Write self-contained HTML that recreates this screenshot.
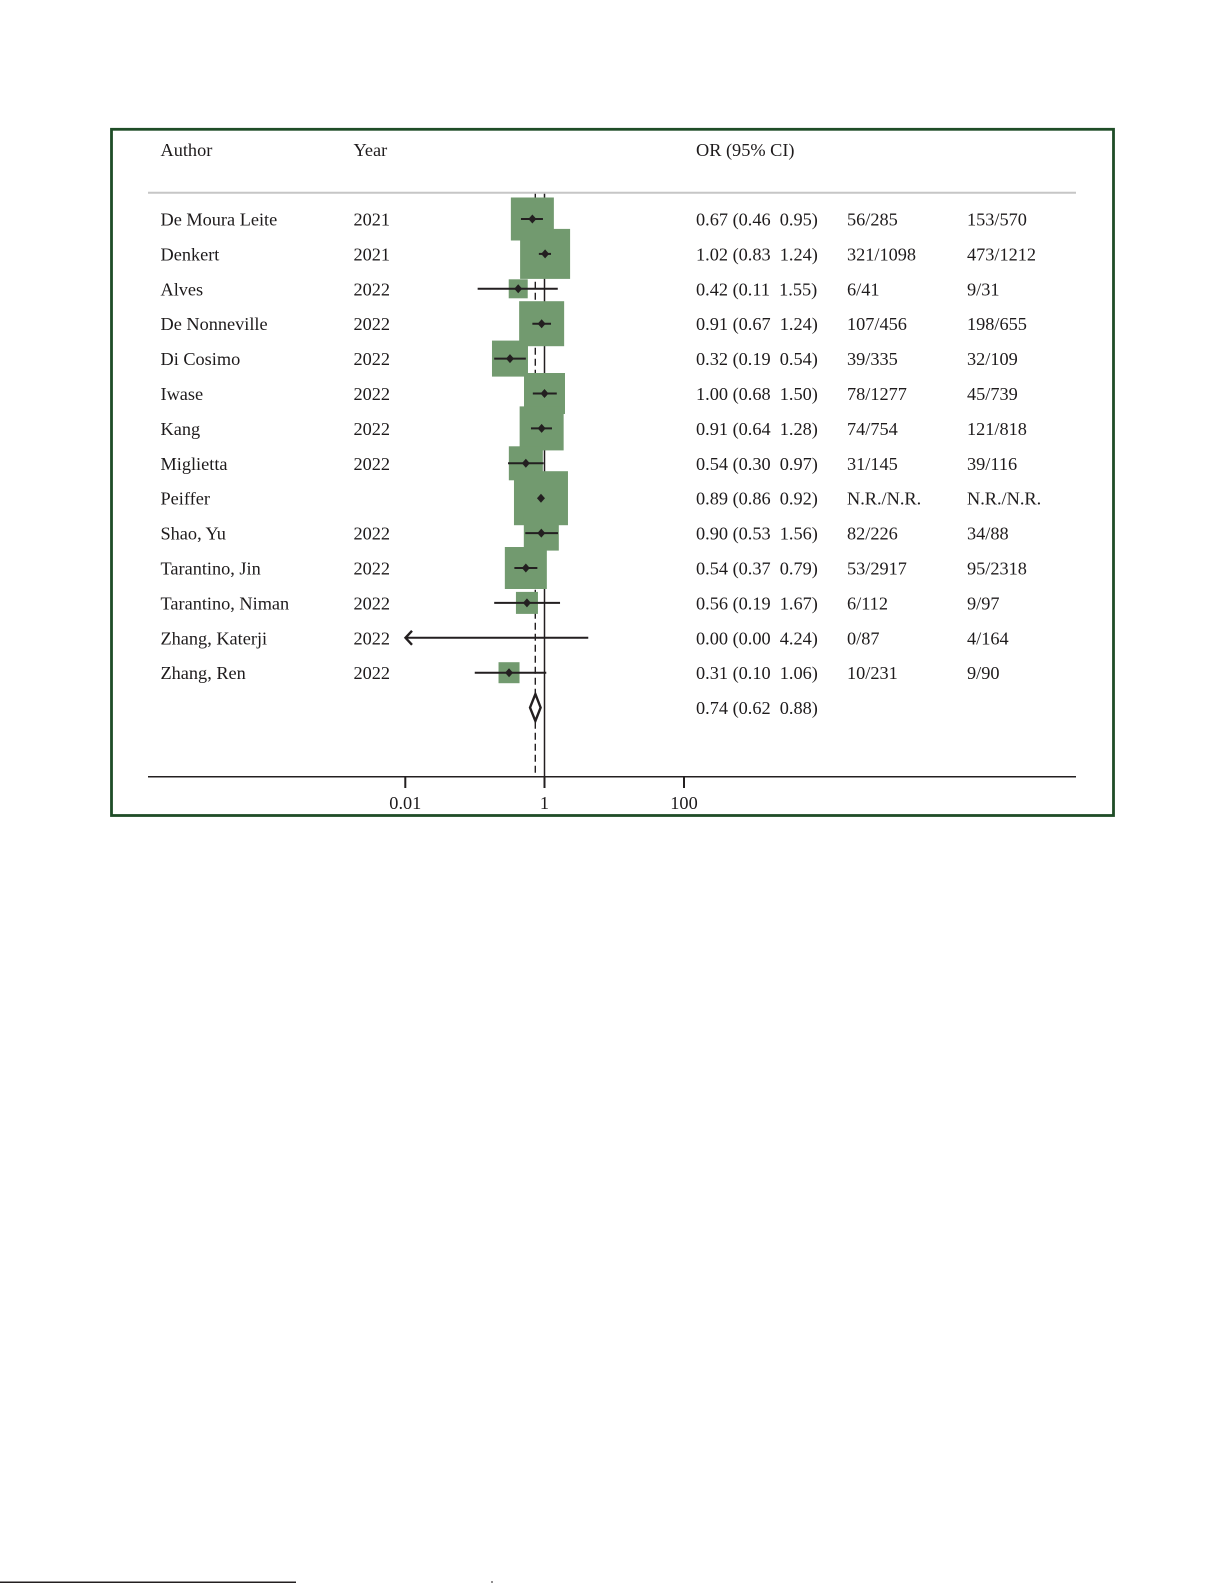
<!DOCTYPE html>
<html>
<head>
<meta charset="utf-8">
<style>
  html,body{margin:0;padding:0;background:#fff;}
  svg{display:block;}
  text{font-family:"Liberation Serif","Times New Roman",serif;font-size:18.3px;fill:#1e1b1c;}
</style>
</head>
<body>
<svg width="1226" height="1583" viewBox="0 0 1226 1583" xmlns="http://www.w3.org/2000/svg">
  <rect x="0" y="0" width="1226" height="1583" fill="#fff"/>
  <!-- frame -->
  <rect x="111.5" y="129.3" width="1002" height="686.2" fill="none" stroke="#1f4d27" stroke-width="2.8"/>

  <!-- header -->
  <text x="160.5" y="156">Author</text>
  <text x="353.5" y="156">Year</text>
  <text x="696" y="156">OR (95% CI)</text>
  <line x1="148" y1="192.7" x2="1076" y2="192.7" stroke="#c6c6c6" stroke-width="2"/>

  <!-- reference lines -->
  <line x1="544.5" y1="193.7" x2="544.5" y2="777" stroke="#231f20" stroke-width="1.5"/>
  <line x1="535.3" y1="193.7" x2="535.3" y2="777" stroke="#231f20" stroke-width="1.4" stroke-dasharray="7 4"/>

  <!-- boxes -->
  <g fill="#729a6f">
    <rect x="510.87" y="197.5" width="43" height="43"/>
    <rect x="520.10" y="228.9" width="50" height="50"/>
    <rect x="508.72" y="279.3" width="19" height="19"/>
    <rect x="519.14" y="301.2" width="45" height="45"/>
    <rect x="491.98" y="340.6" width="36" height="36"/>
    <rect x="524.00" y="373.0" width="41" height="41"/>
    <rect x="519.64" y="406.4" width="44" height="44"/>
    <rect x="508.84" y="446.3" width="34" height="34"/>
    <rect x="513.97" y="471.2" width="54" height="54"/>
    <rect x="523.81" y="515.6" width="35" height="35"/>
    <rect x="504.84" y="547.0" width="42" height="42"/>
    <rect x="515.94" y="591.9" width="22" height="22"/>
    <rect x="498.53" y="662.2" width="21" height="21"/>
  </g>

  <!-- CI lines -->
  <g stroke="#231f20" stroke-width="2">
    <line x1="520.98" y1="219" x2="542.95" y2="219"/>
    <line x1="538.86" y1="253.9" x2="551.02" y2="253.9"/>
    <line x1="477.64" y1="288.8" x2="557.77" y2="288.8"/>
    <line x1="532.37" y1="323.7" x2="551.02" y2="323.7"/>
    <line x1="494.20" y1="358.6" x2="525.84" y2="358.6"/>
    <line x1="532.82" y1="393.5" x2="556.78" y2="393.5"/>
    <line x1="530.98" y1="428.4" x2="551.98" y2="428.4"/>
    <line x1="508.03" y1="463.3" x2="543.58" y2="463.3"/>
    <line x1="539.93" y1="498.2" x2="541.97" y2="498.2"/>
    <line x1="525.27" y1="533.1" x2="557.97" y2="533.1"/>
    <line x1="514.38" y1="568.0" x2="537.36" y2="568.0"/>
    <line x1="494.20" y1="602.9" x2="560.03" y2="602.9"/>
    <line x1="406" y1="637.8" x2="588.26" y2="637.8"/>
    <line x1="474.75" y1="672.7" x2="546.27" y2="672.7"/>
  </g>
  <!-- arrow head -->
  <polyline points="412,630.8 405.5,637.8 412,644.8" fill="none" stroke="#231f20" stroke-width="2.4"/>

  <!-- point markers -->
  <g fill="#231f20">
    <polygon points="532.37,214.5 536.37,219 532.37,223.5 528.37,219"/>
    <polygon points="545.10,249.4 549.10,253.9 545.10,258.4 541.10,253.9"/>
    <polygon points="518.22,284.3 522.22,288.8 518.22,293.3 514.22,288.8"/>
    <polygon points="541.64,319.2 545.64,323.7 541.64,328.2 537.64,323.7"/>
    <polygon points="509.98,354.1 513.98,358.6 509.98,363.1 505.98,358.6"/>
    <polygon points="544.50,389.0 548.50,393.5 544.50,398.0 540.50,393.5"/>
    <polygon points="541.64,423.9 545.64,428.4 541.64,432.9 537.64,428.4"/>
    <polygon points="525.84,458.8 529.84,463.3 525.84,467.8 521.84,463.3"/>
    <polygon points="540.97,493.7 544.97,498.2 540.97,502.7 536.97,498.2"/>
    <polygon points="541.31,528.6 545.31,533.1 541.31,537.6 537.31,533.1"/>
    <polygon points="525.84,563.5 529.84,568.0 525.84,572.5 521.84,568.0"/>
    <polygon points="526.94,598.4 530.94,602.9 526.94,607.4 522.94,602.9"/>
    <polygon points="509.03,668.2 513.03,672.7 509.03,677.2 505.03,672.7"/>
  </g>

  <!-- overall diamond -->
  <polygon points="535.38,694 540.63,707.6 535.38,721 530.02,707.6" fill="#fff" stroke="#231f20" stroke-width="2.4"/>

  <!-- axis -->
  <line x1="148" y1="776.7" x2="1076" y2="776.7" stroke="#231f20" stroke-width="1.5"/>
  <g stroke="#231f20" stroke-width="2">
    <line x1="405.3" y1="777" x2="405.3" y2="788"/>
    <line x1="544.5" y1="777" x2="544.5" y2="788"/>
    <line x1="684" y1="777" x2="684" y2="788"/>
  </g>
  <text x="405.3" y="809" text-anchor="middle">0.01</text>
  <text x="544.5" y="809" text-anchor="middle">1</text>
  <text x="684" y="809" text-anchor="middle">100</text>

  <!-- rows text -->
  <g>
    <text x="160.5" y="225.5">De Moura Leite</text><text x="353.5" y="225.5">2021</text>
    <text x="696" y="225.5" xml:space="preserve">0.67 (0.46  0.95)</text><text x="847" y="225.5">56/285</text><text x="967" y="225.5">153/570</text>

    <text x="160.5" y="260.4">Denkert</text><text x="353.5" y="260.4">2021</text>
    <text x="696" y="260.4" xml:space="preserve">1.02 (0.83  1.24)</text><text x="847" y="260.4">321/1098</text><text x="967" y="260.4">473/1212</text>

    <text x="160.5" y="295.3">Alves</text><text x="353.5" y="295.3">2022</text>
    <text x="696" y="295.3" xml:space="preserve">0.42 (0.11  1.55)</text><text x="847" y="295.3">6/41</text><text x="967" y="295.3">9/31</text>

    <text x="160.5" y="330.2">De Nonneville</text><text x="353.5" y="330.2">2022</text>
    <text x="696" y="330.2" xml:space="preserve">0.91 (0.67  1.24)</text><text x="847" y="330.2">107/456</text><text x="967" y="330.2">198/655</text>

    <text x="160.5" y="365.1">Di Cosimo</text><text x="353.5" y="365.1">2022</text>
    <text x="696" y="365.1" xml:space="preserve">0.32 (0.19  0.54)</text><text x="847" y="365.1">39/335</text><text x="967" y="365.1">32/109</text>

    <text x="160.5" y="400.0">Iwase</text><text x="353.5" y="400.0">2022</text>
    <text x="696" y="400.0" xml:space="preserve">1.00 (0.68  1.50)</text><text x="847" y="400.0">78/1277</text><text x="967" y="400.0">45/739</text>

    <text x="160.5" y="434.9">Kang</text><text x="353.5" y="434.9">2022</text>
    <text x="696" y="434.9" xml:space="preserve">0.91 (0.64  1.28)</text><text x="847" y="434.9">74/754</text><text x="967" y="434.9">121/818</text>

    <text x="160.5" y="469.8">Miglietta</text><text x="353.5" y="469.8">2022</text>
    <text x="696" y="469.8" xml:space="preserve">0.54 (0.30  0.97)</text><text x="847" y="469.8">31/145</text><text x="967" y="469.8">39/116</text>

    <text x="160.5" y="504.7">Peiffer</text>
    <text x="696" y="504.7" xml:space="preserve">0.89 (0.86  0.92)</text><text x="847" y="504.7">N.R./N.R.</text><text x="967" y="504.7">N.R./N.R.</text>

    <text x="160.5" y="539.6">Shao, Yu</text><text x="353.5" y="539.6">2022</text>
    <text x="696" y="539.6" xml:space="preserve">0.90 (0.53  1.56)</text><text x="847" y="539.6">82/226</text><text x="967" y="539.6">34/88</text>

    <text x="160.5" y="574.5">Tarantino, Jin</text><text x="353.5" y="574.5">2022</text>
    <text x="696" y="574.5" xml:space="preserve">0.54 (0.37  0.79)</text><text x="847" y="574.5">53/2917</text><text x="967" y="574.5">95/2318</text>

    <text x="160.5" y="609.4">Tarantino, Niman</text><text x="353.5" y="609.4">2022</text>
    <text x="696" y="609.4" xml:space="preserve">0.56 (0.19  1.67)</text><text x="847" y="609.4">6/112</text><text x="967" y="609.4">9/97</text>

    <text x="160.5" y="644.3">Zhang, Katerji</text><text x="353.5" y="644.3">2022</text>
    <text x="696" y="644.3" xml:space="preserve">0.00 (0.00  4.24)</text><text x="847" y="644.3">0/87</text><text x="967" y="644.3">4/164</text>

    <text x="160.5" y="679.2">Zhang, Ren</text><text x="353.5" y="679.2">2022</text>
    <text x="696" y="679.2" xml:space="preserve">0.31 (0.10  1.06)</text><text x="847" y="679.2">10/231</text><text x="967" y="679.2">9/90</text>

    <text x="696" y="714.1" xml:space="preserve">0.74 (0.62  0.88)</text>
  </g>

  <!-- bottom edge artifacts -->
  <rect x="0" y="1581.5" width="296" height="1.5" fill="#231f20"/>
  <rect x="491.5" y="1581" width="1" height="2" fill="#231f20"/>
</svg>
</body>
</html>
